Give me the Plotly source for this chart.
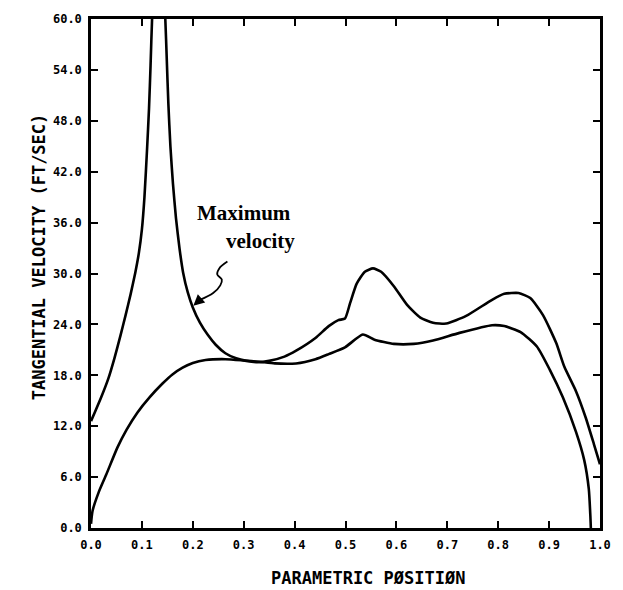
import plotly.graph_objects as go

# ---- data ----
upper_x = [0.000, 0.008, 0.020, 0.034, 0.046, 0.058, 0.068, 0.078, 0.087, 0.094,
           0.100, 0.105, 0.110, 0.114, 0.117, 0.120, 0.133, 0.146, 0.149, 0.152,
           0.156, 0.161, 0.167, 0.174, 0.181, 0.190, 0.200, 0.214, 0.229, 0.245,
           0.264, 0.285, 0.305, 0.328, 0.350, 0.380, 0.403, 0.441, 0.467, 0.486,
           0.499, 0.509, 0.522, 0.538, 0.554, 0.570, 0.595, 0.621, 0.647, 0.672,
           0.698, 0.737, 0.788, 0.812, 0.840, 0.863, 0.888, 0.914, 0.930, 0.953,
           0.972, 0.988, 1.000]
upper_y = [12.6, 13.7, 15.4, 17.6, 20.0, 22.7, 25.1, 27.6, 30.1, 32.4,
           35.2, 39.0, 44.5, 49.5, 54.5, 60.0, 75.0, 60.0, 55.0, 50.0,
           45.0, 40.6, 36.5, 32.9, 30.1, 27.8, 26.0, 24.2, 22.8, 21.6,
           20.6, 20.0, 19.7, 19.55, 19.7, 20.2, 20.9, 22.4, 23.8, 24.5,
           24.7, 26.5, 28.8, 30.2, 30.6, 30.2, 28.5, 26.3, 24.8, 24.2,
           24.1, 25.0, 26.9, 27.6, 27.7, 27.1, 25.1, 21.8, 19.0, 16.1,
           13.0, 9.9, 7.5]

lower_x = [0.000, 0.003, 0.015, 0.030, 0.052, 0.070, 0.091, 0.115, 0.140, 0.160,
           0.180, 0.200, 0.225, 0.264, 0.300, 0.330, 0.361, 0.403, 0.441, 0.467,
           0.499, 0.534, 0.557, 0.595, 0.634, 0.672, 0.724, 0.788, 0.812, 0.844,
           0.876, 0.901, 0.927, 0.953, 0.969, 0.978, 0.981, 0.982]
lower_y = [0.5, 2.0, 4.2, 6.3, 9.5, 11.6, 13.6, 15.4, 17.0, 18.1,
           18.9, 19.45, 19.8, 19.9, 19.75, 19.6, 19.4, 19.4, 19.9, 20.5,
           21.3, 22.8, 22.2, 21.7, 21.7, 22.1, 23.0, 23.9, 23.8, 23.1,
           21.4, 18.7, 15.4, 11.3, 8.0, 4.6, 1.5, 0.0]

# squiggly pointer of the "Maximum velocity" label
pointer_x = [0.268, 0.252, 0.248, 0.257, 0.254, 0.240, 0.214]
pointer_y = [31.4, 30.6, 29.9, 29.3, 28.6, 27.7, 26.9]
pointer_tip = (0.201, 26.2)

x_ticks = [0.0, 0.1, 0.2, 0.3, 0.4, 0.5, 0.6, 0.7, 0.8, 0.9, 1.0]
y_ticks = [0.0, 6.0, 12.0, 18.0, 24.0, 30.0, 36.0, 42.0, 48.0, 54.0, 60.0]

x_title = "PARAMETRIC PØSITIØN"
y_title = "TANGENTIAL VELOCITY (FT/SEC)"
label_lines = ["Maximum", "velocity"]

# ---- figure ----
fig = go.Figure()
line_style = dict(color="black", width=2.6, shape="spline", smoothing=0.55)
fig.add_trace(go.Scatter(x=upper_x, y=upper_y, mode="lines", line=line_style,
                         showlegend=False, hoverinfo="skip"))
fig.add_trace(go.Scatter(x=lower_x, y=lower_y, mode="lines", line=line_style,
                         showlegend=False, hoverinfo="skip"))
fig.add_trace(go.Scatter(x=pointer_x, y=pointer_y, mode="lines",
                         line=dict(color="black", width=1.8, shape="spline", smoothing=1.0),
                         showlegend=False, hoverinfo="skip"))

fig.add_annotation(x=pointer_tip[0], y=pointer_tip[1], ax=pointer_x[-1], ay=pointer_y[-1],
                   xref="x", yref="y", axref="x", ayref="y", text="",
                   showarrow=True, arrowhead=2, arrowsize=1.1, arrowwidth=2,
                   arrowcolor="black")

serif = dict(family="Liberation Serif", size=21, color="black", weight="bold")
fig.add_annotation(x=0.204, y=37.1, xref="x", yref="y", text=label_lines[0],
                   showarrow=False, xanchor="left", yanchor="middle", font=serif)
fig.add_annotation(x=0.262, y=33.8, xref="x", yref="y", text=label_lines[1],
                   showarrow=False, xanchor="left", yanchor="middle", font=serif)

mono_title = dict(family="DejaVu Sans Mono", size=17, color="black", weight="bold")
fig.add_annotation(x=0.545, y=-0.099, xref="paper", yref="paper", text=x_title,
                   showarrow=False, xanchor="center", yanchor="middle", font=mono_title)
fig.add_annotation(x=-0.103, y=0.533, xref="paper", yref="paper", text=y_title,
                   showarrow=False, xanchor="center", yanchor="middle", textangle=-90,
                   font=mono_title)

tickfont = dict(family="DejaVu Sans Mono", size=12, color="black", weight="bold")
axis_common = dict(showline=True, linecolor="black", linewidth=2.5, mirror="ticks",
                   ticks="inside", ticklen=7, tickwidth=2, tickcolor="black",
                   showgrid=False, zeroline=False, tickfont=tickfont,
                   tickformat=".1f", ticklabelstandoff=4)

fig.update_xaxes(range=[0, 1], tickvals=x_ticks, **axis_common)
fig.update_yaxes(range=[0, 60], tickvals=y_ticks, **axis_common)

fig.update_layout(width=623, height=590, autosize=False,
                  margin=dict(l=91, r=13, t=12, b=62),
                  paper_bgcolor="white", plot_bgcolor="white")

fig.write_html("out.html", config={"displayModeBar": False},
               post_script="document.body.style.margin='0';")
